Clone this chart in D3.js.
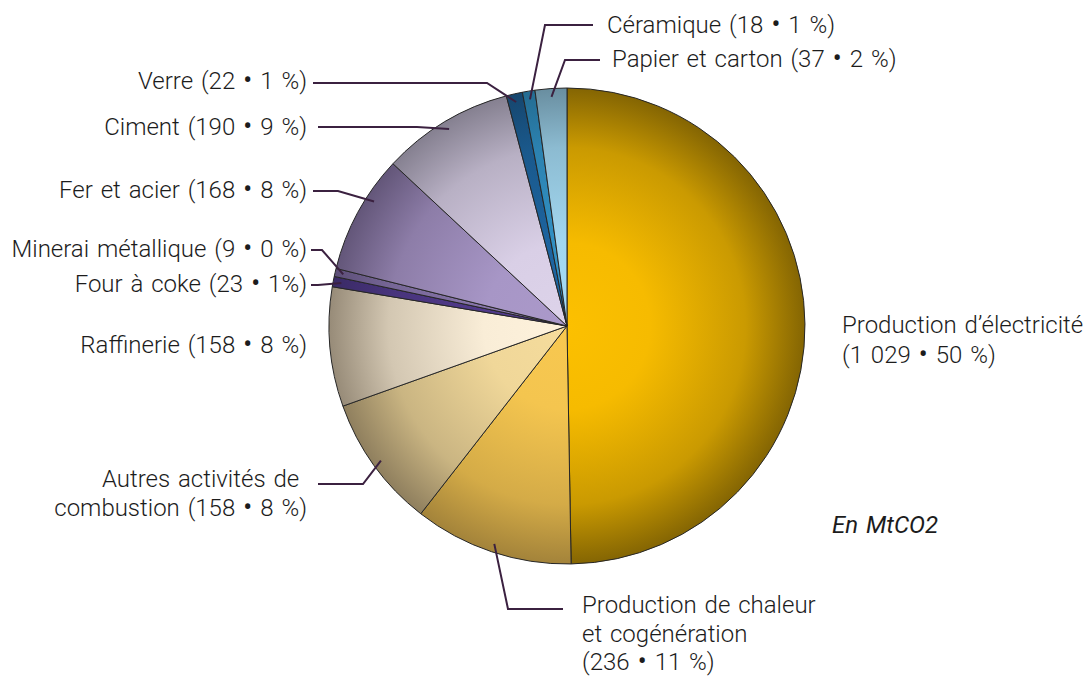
<!DOCTYPE html>
<html>
<head>
<meta charset="utf-8">
<script src="https://cdn.jsdelivr.net/npm/d3@7"></script>
<style>
  body { margin: 0; background: #fff; }
  svg { display: block; }
  text { font-family: Roboto, "Liberation Sans", sans-serif; font-weight: 300; fill: #1c1c1c; word-spacing: 2px; }
</style>
</head>
<body>
<svg id="chart" width="1087" height="677"></svg>
<script>
// sectors, clockwise from 12 o'clock
const sectors = [
  "Production d’électricité", "Production de chaleur et cogénération",
  "Autres activités de combustion", "Raffinerie", "Four à coke",
  "Minerai métallique", "Fer et acier", "Ciment", "Verre", "Céramique",
  "Papier et carton",
];
const tonnes = [1029, 236, 158, 158, 23, 9, 168, 190, 22, 18, 37];
const percents = [50, 11, 8, 8, 1, 0, 8, 9, 1, 1, 2];
// slice sizes as drawn in the picture (% of the circle)
const drawnShare = [49.7, 10.8, 9.0, 8.1, 0.7, 0.55, 8.05, 8.95, 1.1, 0.85, 2.15];
const labelLines = [
  ["Production d’électricité", "(1 029 • 50 %)"],
  ["Production de chaleur", "et cogénération", "(236 • 11 %)"],
  ["Autres activités de\u00a0", "combustion (158 • 8 %)"],
  ["Raffinerie (158 • 8 %)"],
  ["Four à coke (23 • 1%)"],
  ["Minerai métallique (9 • 0 %)"],
  ["Fer et acier (168 • 8 %)"],
  ["Ciment (190 • 9 %)"],
  ["Verre (22 • 1 %)"],
  ["Céramique (18 • 1 %)"],
  ["Papier et carton (37 • 2 %)"],
];
const unitNote = "En MtCO2";

// colours: centre / rim of each slice
const lightColors = ["#fcc000", "#f8c850", "#f5dc9c", "#fef2dc", "#523b8c", "#8a78ae", "#ab99ca", "#ddd3ea", "#1d66a2", "#3292c6", "#a5dbf4"];
const darkColors  = ["#846503", "#a3833a", "#8f7f5e", "#978b78", "#3a2a66", "#5d4f78", "#635679", "#858090", "#16466e", "#246c92", "#698ea0"];

const labelLayout = [
  { x: 842, y: 333, anchor: "start", lh: 29.5 },
  { x: 582, y: 613, anchor: "start", lh: 28.5, line: { y: 609, x0: 563, elbow: 508 } },
  { x: 307, y: 487, anchor: "end", line: { y: 484, x0: 318, elbow: 363 } },
  { x: 307, y: 353, anchor: "end" },
  { x: 307, y: 292, anchor: "end", line: { y: 285, x0: 311, elbow: 318 } },
  { x: 307, y: 257, anchor: "end", line: { y: 250, x0: 311, elbow: 322 } },
  { x: 307, y: 198, anchor: "end", line: { y: 191, x0: 313, elbow: 338, frac: 0.65 } },
  { x: 307, y: 135, anchor: "end", line: { y: 127, x0: 318, elbow: 417 } },
  { x: 307, y: 89, anchor: "end", line: { y: 83, x0: 313, elbow: 487 } },
  { x: 607, y: 33, anchor: "start", line: { y: 25, x0: 593, elbow: 545 } },
  { x: 612, y: 67, anchor: "start", line: { y: 60, x0: 600, elbow: 565 } },
];

const cx = 567, cy = 326, R = 238;
const lineHeight = 29;
const fontSize = 24;

const data = sectors.map((name, i) => ({
  name, tonnes: tonnes[i], pct: percents[i], share: drawnShare[i], i,
}));

const svg = d3.select("#chart");
const defs = svg.append("defs");

data.forEach((d) => {
  const mix = d3.interpolateRgb(lightColors[d.i], darkColors[d.i]);
  const grad = defs.append("radialGradient")
    .attr("id", `grad-${d.i}`)
    .attr("gradientUnits", "userSpaceOnUse")
    .attr("cx", 0).attr("cy", 0).attr("r", R);
  [[0, 0], [0.35, 0.05], [0.75, 0.42], [1, 1]].forEach(([o, t]) => {
    grad.append("stop").attr("offset", o).attr("stop-color", mix(t));
  });
});

const pie = d3.pie().sort(null).value((d) => d.share);
const arcs = pie(data);
const arc = d3.arc().innerRadius(0).outerRadius(R);

const g = svg.append("g").attr("transform", `translate(${cx},${cy})`);
g.selectAll("path.slice")
  .data(arcs)
  .join("path")
  .attr("class", "slice")
  .attr("d", arc)
  .attr("fill", (d) => `url(#grad-${d.data.i})`)
  .attr("stroke", "#262626")
  .attr("stroke-width", 1)
  .attr("stroke-linejoin", "round");

// leader lines
const leaders = arcs.filter((a) => labelLayout[a.data.i].line);
svg.selectAll("path.leader")
  .data(leaders)
  .join("path")
  .attr("class", "leader")
  .attr("fill", "none")
  .attr("stroke", "#3b2140")
  .attr("stroke-width", 2)
  .attr("d", (a) => {
    const L = labelLayout[a.data.i].line;
    const f = L.frac ?? 0.5;
    const ang = a.startAngle + f * (a.endAngle - a.startAngle);
    const ex = cx + R * 0.965 * Math.sin(ang);
    const ey = cy - R * 0.965 * Math.cos(ang);
    return d3.line()([[L.x0, L.y], [L.elbow, L.y], [ex, ey]]);
  });

// labels (bullet drawn a little larger, as in the original)
function addLine(tspan, s) {
  s.split("•").forEach((part, k) => {
    if (k > 0) tspan.append("tspan").attr("font-size", fontSize * 1.2).attr("dy", 1).text("•");
    tspan.append("tspan").attr("dy", k > 0 ? -1 : 0).text(part);
  });
}

data.forEach((d) => {
  const lay = labelLayout[d.i];
  const lh = lay.lh ?? lineHeight;
  const t = svg.append("text")
    .attr("x", lay.x)
    .attr("y", lay.y)
    .attr("text-anchor", lay.anchor)
    .attr("font-size", fontSize);
  labelLines[d.i].forEach((s, k) => {
    const ts = t.append("tspan")
      .attr("x", lay.x)
      .attr("y", lay.y + k * lh);
    addLine(ts, s);
  });
});

svg.append("text")
  .attr("x", 832)
  .attr("y", 533)
  .attr("font-size", fontSize)
  .attr("font-style", "italic")
  .style("font-weight", 400)
  .text(unitNote);
</script>
</body>
</html>
